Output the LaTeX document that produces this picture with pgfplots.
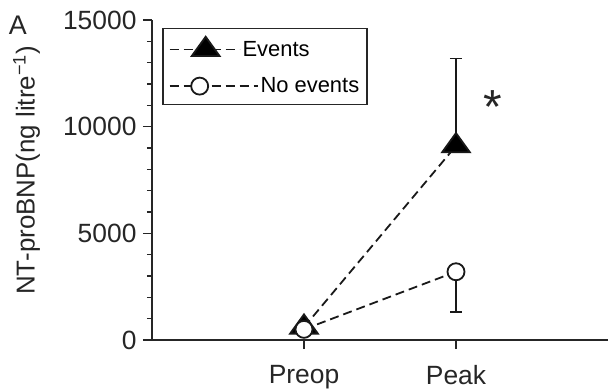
\documentclass[border=0pt]{standalone}
\usepackage{pgfplots}
\pgfplotsset{compat=1.18}
\usepackage{fontspec}
\setmainfont{Liberation Sans}

\begin{document}
\begin{tikzpicture}
\begin{axis}[
  scale only axis, width=456bp, height=320bp,
  xmin=0, xmax=3, ymin=0, ymax=15000,
  axis x line=bottom, axis y line=left,
  axis line style={-, line width=1.5bp, black!85},
  xtick={1,2}, xticklabels={Preop,Peak},
  ytick={0,5000,10000,15000}, minor y tick num=4,
  scaled y ticks=false,
  tick align=outside, major tick length=9bp, minor tick length=5bp,
  every tick/.style={line width=1.5bp, black!85},
  /pgf/number format/1000 sep={},
  /pgf/number format/assume math mode=true,
  tick label style={font=\fontsize{26.5}{31}\selectfont, text=black!85},
  xticklabel style={yshift=-13bp},
  yticklabel style={xshift=-3bp},
  ylabel={NT-proBNP(ng litre\textsuperscript{−1})},
  ylabel style={font=\fontsize{26}{31}\selectfont, text=black!85,
    at={(rel axis cs:-0.305,0.53)}, anchor=north, inner sep=0pt},
  legend style={draw=black!85, line width=1.5bp, font=\fontsize{22}{26}\selectfont,
    at={(rel axis cs:0.022,0.975)}, anchor=north west,
    inner xsep=6bp, inner ysep=8bp, row sep=16bp},
  legend cell align=left,
  clip=false,
]
% Patients with events: mean with upper error bar at peak
\addplot[black!90, line width=1.8bp, dash pattern=on 9bp off 5bp,
  mark=triangle*, mark size=16bp,
  mark options={solid, fill=black, yscale=0.8},
  legend image code/.code={%
    \draw[mark repeat=2, mark phase=2] plot coordinates {(0bp,0bp) (36bp,0bp) (70bp,0bp)};},
  error bars/.cd, y dir=plus, y explicit,
  error mark options={rotate=90, mark size=6bp, line width=1.5bp, solid},
  error bar style={solid, line width=1.5bp}]
  coordinates {(1,600) +- (0,0) (2,9100) +- (0,4100)};
\addlegendentry{\hspace*{-18bp}Events}
% Patients without events: mean with lower error bar at peak
\addplot[black!90, line width=1.8bp, dash pattern=on 9bp off 5bp,
  mark=*, mark size=8.5bp,
  mark options={solid, fill=white},
  legend image code/.code={%
    \draw[mark repeat=2, mark phase=2] plot coordinates {(0bp,0bp) (30bp,0bp) (88bp,0bp)};},
  error bars/.cd, y dir=minus, y explicit,
  error mark options={rotate=90, mark size=6bp, line width=1.5bp, solid},
  error bar style={solid, line width=1.5bp}]
  coordinates {(1,500) +- (0,0) (2,3200) +- (0,1880)};
\addlegendentry{No events}
% significance marker and panel letter
\node[font=\fontsize{48}{50}\selectfont, text=black!85] at (axis cs:2.24,10900) {*};
\node[font=\fontsize{27}{31}\selectfont, text=black!85] at (rel axis cs:-0.294,0.985) {A};
\coordinate (bbsw) at (rel axis cs:-0.3333,-0.153);
\coordinate (bbne) at (rel axis cs:1,1.0625);
\end{axis}
\pgfresetboundingbox
\path[use as bounding box] (bbsw) rectangle (bbne);
\end{tikzpicture}
\end{document}
